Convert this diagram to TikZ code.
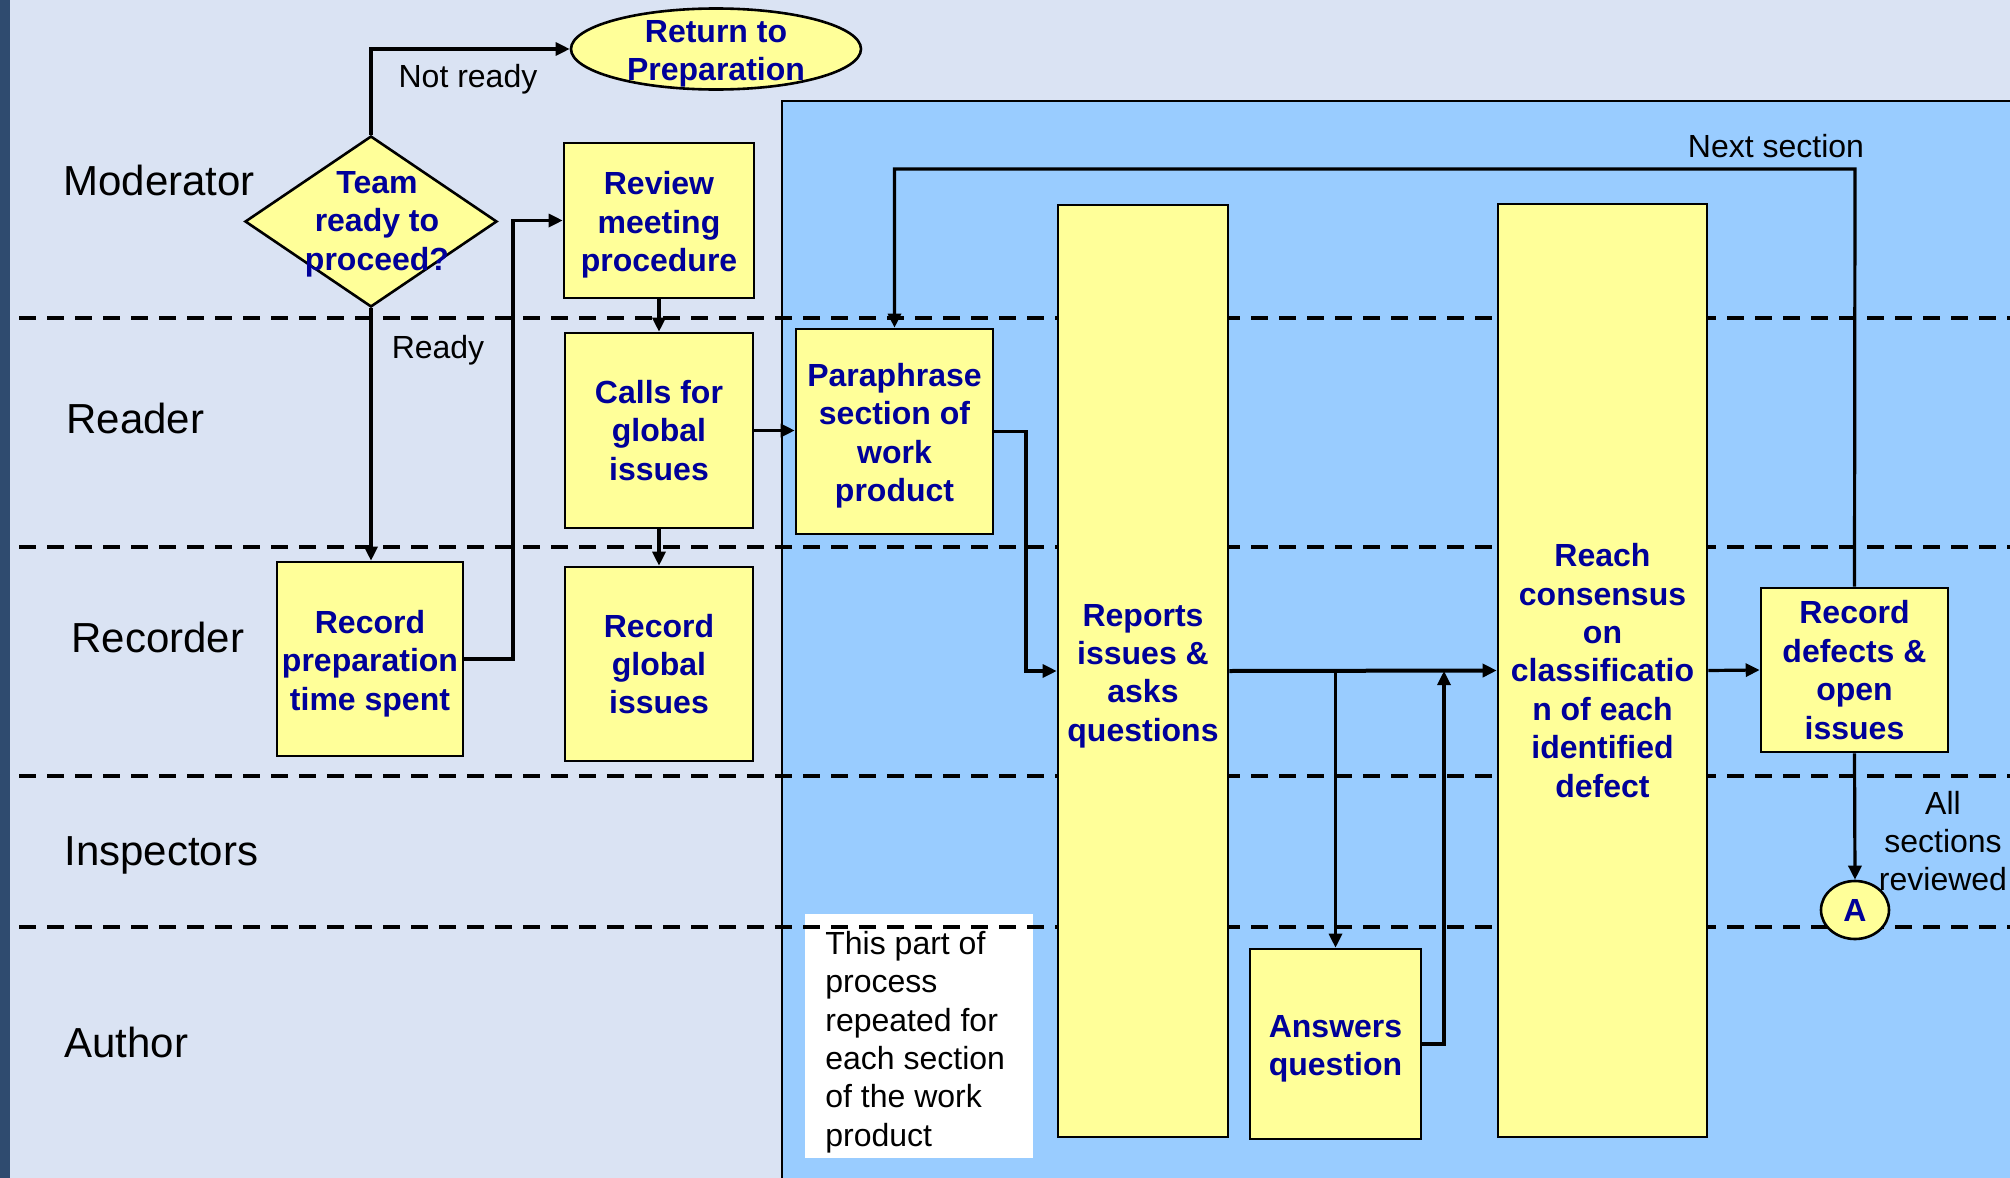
\documentclass[tikz,border=0pt]{standalone}
\usepackage{fontspec}
\setmainfont{Liberation Sans}
\usetikzlibrary{arrows.meta,shapes.geometric,calc}
\definecolor{bgc}{HTML}{DAE3F3}
\definecolor{barc}{HTML}{2F4B6F}
\definecolor{bluc}{HTML}{99CCFF}
\definecolor{yelc}{HTML}{FFFF99}
\definecolor{txtc}{HTML}{000099}
\newcommand{\sdn}{\rule{0pt}{16pt}}
\begin{document}
\begin{tikzpicture}[x=0.5pt,y=-0.5pt,
  box/.style={draw=black,line width=1.3pt,fill=yelc,inner sep=0pt,text=txtc,
    font=\fontsize{16}{19.2}\selectfont\bfseries,align=center},
  btxt/.style={text=txtc,font=\fontsize{16}{19.2}\selectfont\bfseries,align=center,inner sep=0pt},
  lanelbl/.style={font=\fontsize{21}{25}\selectfont,anchor=west,inner sep=0pt},
  lbl/.style={font=\fontsize{16}{19.2}\selectfont,inner sep=0pt,align=center},
  conn/.style={line width=1.6pt,-{Triangle[length=7pt,width=6.5pt]}},
  wire/.style={line width=1.6pt},
  lanesep/.style={line width=2pt,dash pattern=on 8.5pt off 5.5pt}
]
% background
\useasboundingbox (0,0) rectangle (2010,1178);
\fill[bgc] (0,0) rectangle (2010,1178);
\fill[barc] (0,0) rectangle (10,1178);
% repeated-section region
\fill[bluc] (782,101) rectangle (2010,1178);
\draw[line width=1.2pt] (782,1178) -- (782,101) -- (2010,101);
% note box
\fill[white] (805,914) rectangle (1033,1158);
\node[lbl,anchor=west,align=left] (note) at (825,1042)
  {This part of\\process\\repeated for\\each section\\of the work\\product};
% lane separators
\foreach \yy in {318,547,776,927} \draw[lanesep] (19,\yy) -- (2010,\yy);
% lane labels
\node[lanelbl] (lmod) at (63,180) {Moderator};
\node[lanelbl] (lrea) at (66,418) {Reader};
\node[lanelbl] (lrec) at (71,637) {Recorder};
\node[lanelbl] (lins) at (64,855) {Inspectors};
\node[lanelbl] (laut) at (64,1042) {Author};
% nodes
\node[draw=black,line width=1.3pt,fill=yelc,ellipse,minimum width=145pt,minimum height=40.5pt,inner sep=0pt] (ret) at (716,49) {};
\node[btxt] (rett) at (716,54) {Return to\\Preparation};
\node[draw=black,line width=1.3pt,fill=yelc,diamond,minimum width=126pt,minimum height=85.5pt,inner sep=0pt] (dia) at (371,221.5) {};
\node[btxt] (diat) at (377,224) {Team\\ready to\\proceed?};
\node[box,minimum width=95pt,minimum height=77.5pt] (review) at (659,220.5) {\sdn Review\\meeting\\procedure};
\node[box,minimum width=94pt,minimum height=97.5pt] (calls) at (659,430.5) {Calls for\\global\\issues};
\node[box,minimum width=98.5pt,minimum height=102.5pt] (para) at (894.5,431.5) {\sdn Paraphrase\\section of\\work\\product};
\node[box,minimum width=85pt,minimum height=466pt] (reports) at (1143,671) {\sdn Reports\\issues \&\\asks\\questions};
\node[box,minimum width=104.5pt,minimum height=466.5pt] (reach) at (1602.5,670.5) {Reach\\consensus\\on\\classificatio\\n of each\\identified\\defect};
\node[box,minimum width=93.5pt,minimum height=82pt] (defects) at (1854.5,670) {Record\\defects \&\\open\\issues};
\node[box,minimum width=85.5pt,minimum height=95pt] (answers) at (1335.5,1044) {\sdn Answers\\question};
\node[box,minimum width=93pt,minimum height=97pt] (recprep) at (370,659) {\sdn Record\\preparation\\time spent};
\node[box,minimum width=94pt,minimum height=97pt] (recglob) at (659,664) {Record\\global\\issues};
\node[box,ellipse,minimum width=34pt,minimum height=29pt] (A) at (1855,910) {A};
% connectors
\draw[conn] (dia.north) -- (dia.north |- ret.west) -- (ret.west);
\draw[conn] (dia.south) -- (dia.south |- recprep.north);
\coordinate (j1) at (513,659);
\draw[conn] (recprep.east) -- (j1) |- (review.west);
\draw[conn] (review.south) -- (calls.north);
\draw[conn] (calls.south) -- (recglob.north);
\draw[conn] (calls.east) -- (calls.east -| para.west);
\coordinate (j4) at (1026,431.5);
\draw[conn] (para.east) -- (j4) |- (reports.west);
\draw[conn,line width=2pt] (reports.east) -- (reach.west);
\coordinate (j2) at (answers.north |- reports.east);
\draw[conn] (j2) -- (answers.north);
\coordinate (j3) at (1444,671);
\draw[conn] (answers.east) -| (j3);
\draw[conn] (reach.east) -- (defects.west);
\coordinate (j5) at (1855,169);
\draw[conn] (defects.north) -- (j5) -| (para.north);
\draw[conn] (defects.south) -- (A.north);
% connector labels
\node[lbl] (notready) at (468,79) {Not ready};
\node[lbl] (ready) at (438,350) {Ready};
\node[lbl] (nextsec) at (1776,146) {Next section};
\node[lbl] (allsec) at (1943,841) {All\\sections\\reviewed};
\end{tikzpicture}
\end{document}
